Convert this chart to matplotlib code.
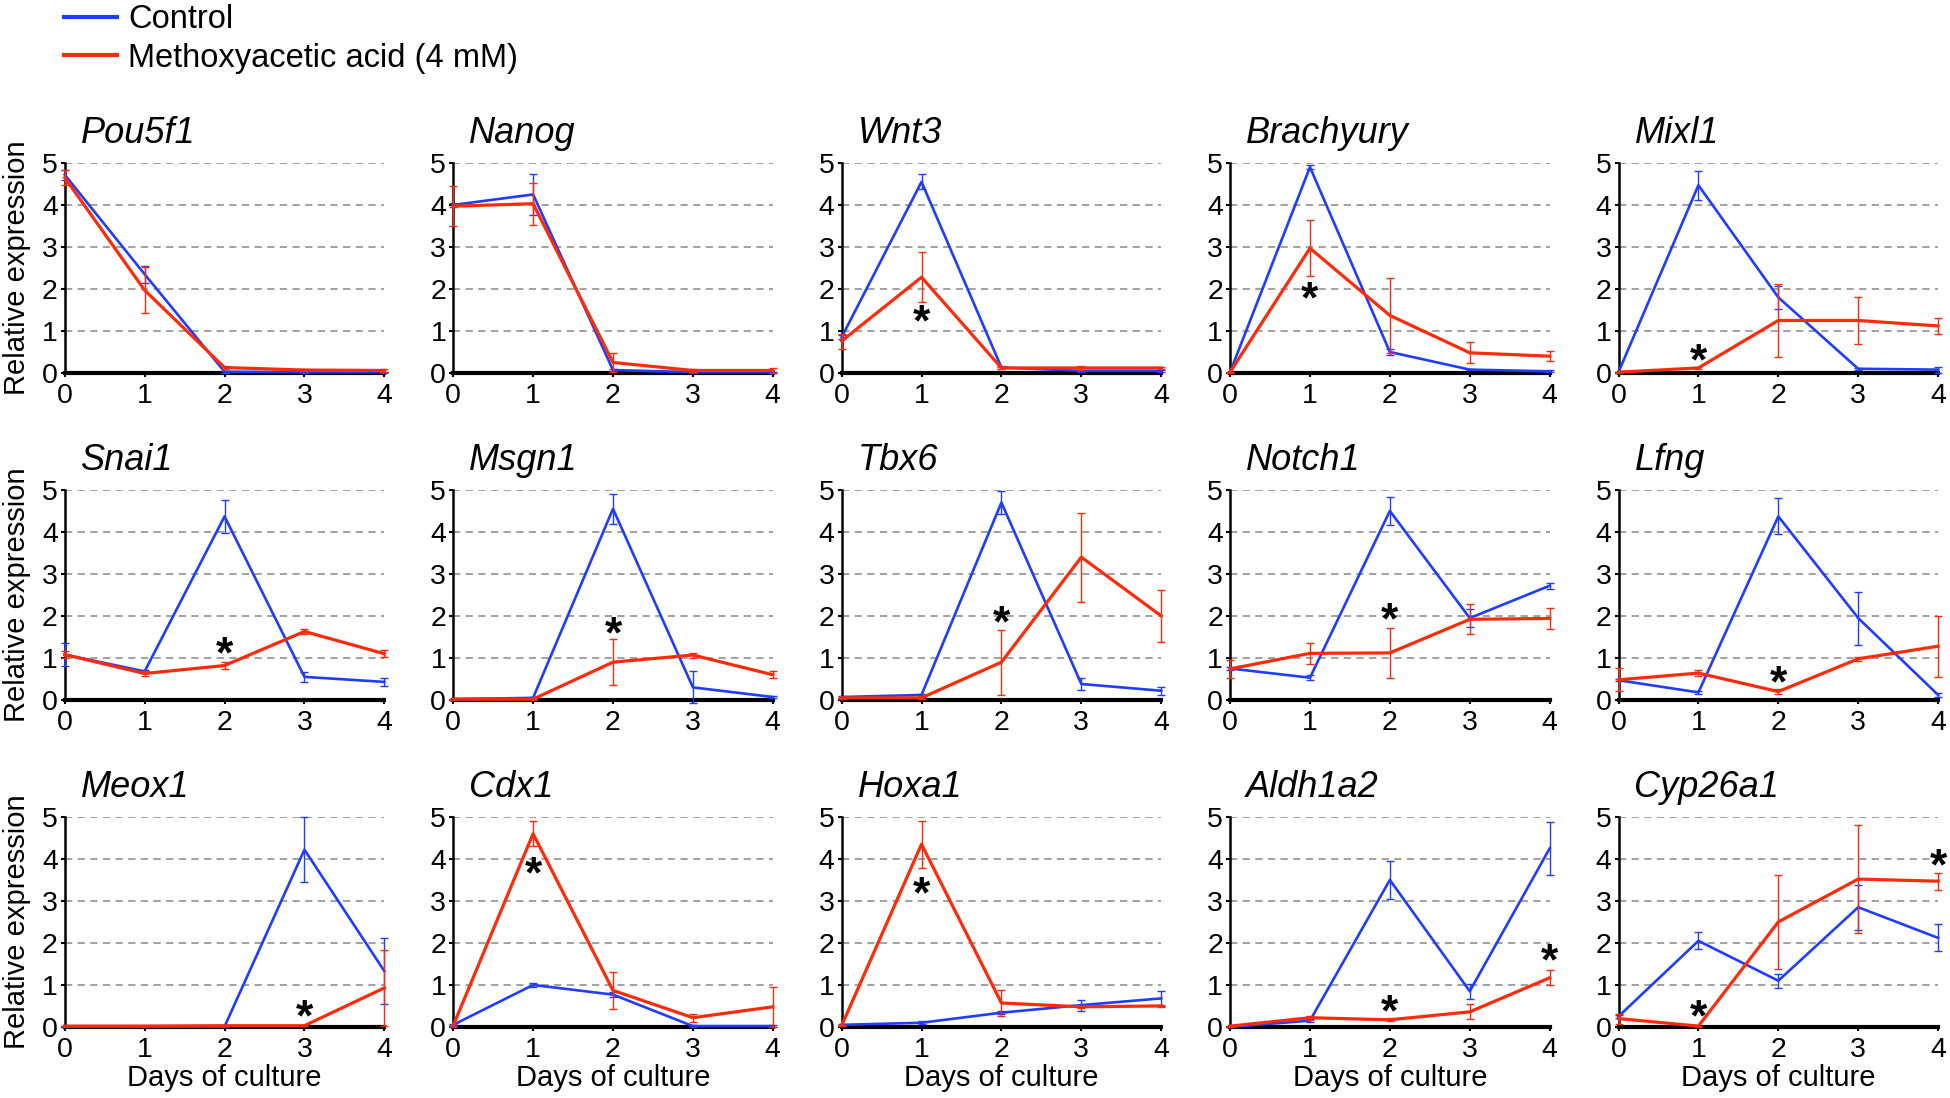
import numpy as np
import matplotlib
matplotlib.use('Agg')
import matplotlib.pyplot as plt
from matplotlib.transforms import offset_copy

plt.rcParams['font.family'] = ['Liberation Sans', 'DejaVu Sans']

days = [0, 1, 2, 3, 4]
genes = ['Pou5f1', 'Nanog', 'Wnt3', 'Brachyury', 'Mixl1',
         'Snai1', 'Msgn1', 'Tbx6', 'Notch1', 'Lfng',
         'Meox1', 'Cdx1', 'Hoxa1', 'Aldh1a2', 'Cyp26a1']

# control
ctrl_mean = [
    [4.72, 2.35, 0.03, 0.02, 0.02],
    [4.00, 4.25, 0.07, 0.02, 0.02],
    [0.85, 4.55, 0.13, 0.05, 0.05],
    [0.02, 4.90, 0.50, 0.08, 0.04],
    [0.02, 4.47, 1.80, 0.10, 0.08],
    [1.08, 0.68, 4.37, 0.55, 0.43],
    [0.02, 0.05, 4.55, 0.30, 0.07],
    [0.07, 0.12, 4.70, 0.38, 0.22],
    [0.75, 0.53, 4.50, 1.95, 2.72],
    [0.47, 0.18, 4.37, 1.95, 0.12],
    [0.01, 0.01, 0.01, 4.22, 1.33],
    [0.05, 1.00, 0.77, 0.02, 0.02],
    [0.05, 0.10, 0.34, 0.52, 0.68],
    [0.00, 0.15, 3.50, 0.85, 4.25],
    [0.25, 2.05, 1.10, 2.85, 2.12],
]
ctrl_err = [
    [0.12, 0.20, 0.02, 0.01, 0.01],
    [0.05, 0.48, 0.03, 0.01, 0.01],
    [0.05, 0.18, 0.03, 0.02, 0.02],
    [0.01, 0.05, 0.06, 0.02, 0.02],
    [0.01, 0.35, 0.27, 0.03, 0.07],
    [0.28, 0.04, 0.40, 0.12, 0.09],
    [0.01, 0.02, 0.35, 0.38, 0.03],
    [0.02, 0.03, 0.28, 0.15, 0.09],
    [0.03, 0.06, 0.33, 0.22, 0.07],
    [0.03, 0.03, 0.43, 0.63, 0.05],
    [0.00, 0.00, 0.00, 0.77, 0.79],
    [0.02, 0.05, 0.06, 0.02, 0.02],
    [0.02, 0.03, 0.04, 0.13, 0.18],
    [0.00, 0.03, 0.46, 0.18, 0.63],
    [0.03, 0.20, 0.17, 0.54, 0.32],
]

# methoxyacetic acid 4 mM
mxa_mean = [
    [4.65, 1.97, 0.13, 0.07, 0.06],
    [3.97, 4.03, 0.25, 0.06, 0.06],
    [0.76, 2.28, 0.12, 0.12, 0.12],
    [0.02, 2.97, 1.37, 0.48, 0.40],
    [0.02, 0.12, 1.25, 1.25, 1.12],
    [1.08, 0.63, 0.82, 1.63, 1.10],
    [0.02, 0.02, 0.90, 1.07, 0.60],
    [0.05, 0.05, 0.90, 3.40, 2.00],
    [0.74, 1.11, 1.12, 1.92, 1.94],
    [0.48, 0.64, 0.20, 0.98, 1.28],
    [0.02, 0.02, 0.03, 0.03, 0.93],
    [0.03, 4.60, 0.87, 0.22, 0.48],
    [0.03, 4.35, 0.57, 0.48, 0.50],
    [0.02, 0.22, 0.17, 0.36, 1.17],
    [0.20, 0.02, 2.50, 3.52, 3.47],
]
mxa_err = [
    [0.18, 0.55, 0.03, 0.03, 0.03],
    [0.47, 0.50, 0.22, 0.03, 0.06],
    [0.18, 0.60, 0.03, 0.05, 0.03],
    [0.01, 0.67, 0.90, 0.25, 0.12],
    [0.01, 0.03, 0.88, 0.55, 0.18],
    [0.08, 0.05, 0.08, 0.07, 0.08],
    [0.01, 0.01, 0.55, 0.06, 0.08],
    [0.02, 0.02, 0.77, 1.06, 0.61],
    [0.22, 0.25, 0.60, 0.36, 0.25],
    [0.27, 0.08, 0.06, 0.05, 0.73],
    [0.00, 0.00, 0.00, 0.00, 0.90],
    [0.02, 0.30, 0.44, 0.10, 0.48],
    [0.01, 0.56, 0.30, 0.03, 0.02],
    [0.01, 0.05, 0.04, 0.18, 0.18],
    [0.12, 0.01, 1.11, 1.28, 0.20],
]

# significance marks
star_gene = ['Wnt3', 'Brachyury', 'Mixl1', 'Snai1', 'Msgn1', 'Tbx6', 'Notch1', 'Lfng',
             'Meox1', 'Cdx1', 'Hoxa1', 'Aldh1a2', 'Aldh1a2', 'Cyp26a1', 'Cyp26a1']
star_x = [1, 1, 1, 2, 2, 2, 2, 2, 3, 1, 1, 2, 4, 1, 4]
star_y = [1.40, 1.94, 0.47, 1.27, 1.74, 2.00, 2.08, 0.58, 0.41, 3.83, 3.35, 0.53, 1.74, 0.41, 4.02]

blue = '#1f3cff'
red = '#ff2a0a'

fig = plt.figure(figsize=(19.5, 10.98), dpi=100)

left0 = 0.0332
dx = 0.1992
w = 0.1639
h = 0.1913
bottoms = [0.6603, 0.3625, 0.0647]

axes = []
for i, g in enumerate(genes):
    r, c = divmod(i, 5)
    ax = fig.add_axes([left0 + c * dx, bottoms[r], w, h])
    axes.append(ax)
    ax.set_xlim(0, 4)
    ax.set_ylim(0, 5)
    ax.set_yticks([0, 1, 2, 3, 4, 5])
    ax.set_xticks(days)
    for yy in [1, 2, 3, 4, 5]:
        ax.axhline(yy, color='#9a9a9a', lw=1.3, ls=(0, (4, 3)), zorder=0)
    ax.spines['top'].set_visible(False)
    ax.spines['right'].set_visible(False)
    ax.spines['left'].set_linewidth(1.8)
    ax.spines['bottom'].set_linewidth(3.0)
    ax.tick_params(axis='both', length=3, width=1.5, labelsize=20.5)
    ax.tick_params(axis='x', pad=4)
    ax.tick_params(axis='y', pad=2)

    ax.errorbar(days, ctrl_mean[i], yerr=ctrl_err[i], color=blue, lw=1.9,
                elinewidth=1.0, capsize=3, capthick=1.0, clip_on=False, zorder=3,
                label='Control')
    ax.errorbar(days, mxa_mean[i], yerr=mxa_err[i], color=red, lw=2.3,
                elinewidth=1.0, capsize=3, capthick=1.0, clip_on=False, zorder=4,
                label='Methoxyacetic acid (4 mM)')

    ax.text(0.05, 1.14, g, transform=ax.transAxes, fontsize=26, style='italic',
            ha='left', va='center')
    if c == 0:
        ax.text(-0.148, 0.5, 'Relative expression', transform=ax.transAxes,
                rotation=90, fontsize=21, ha='center', va='center')
    if r == 2:
        ax.text(0.5, -0.245, 'Days of culture', transform=ax.transAxes,
                fontsize=21, ha='center', va='center')

star_fs = 32
for g, sx, sy in zip(star_gene, star_x, star_y):
    ax = axes[genes.index(g)]
    tr = offset_copy(ax.transData, fig=fig, y=-0.47 * star_fs, units='points')
    ax.text(sx, sy, '*', fontsize=star_fs, fontweight='bold', ha='center',
            va='baseline', transform=tr, clip_on=False, zorder=5)

labels = ['Control', 'Methoxyacetic acid (4 mM)']
handles = [plt.Line2D([], [], color=blue, lw=3), plt.Line2D([], [], color=red, lw=3)]
fig.legend(handles, labels, loc='upper left', bbox_to_anchor=(0.033, 0.996),
           frameon=False, fontsize=23.5, handlelength=1.6, handletextpad=0.35,
           labelspacing=0.22, borderpad=0, borderaxespad=0)

fig.savefig('out.png', dpi=100)
